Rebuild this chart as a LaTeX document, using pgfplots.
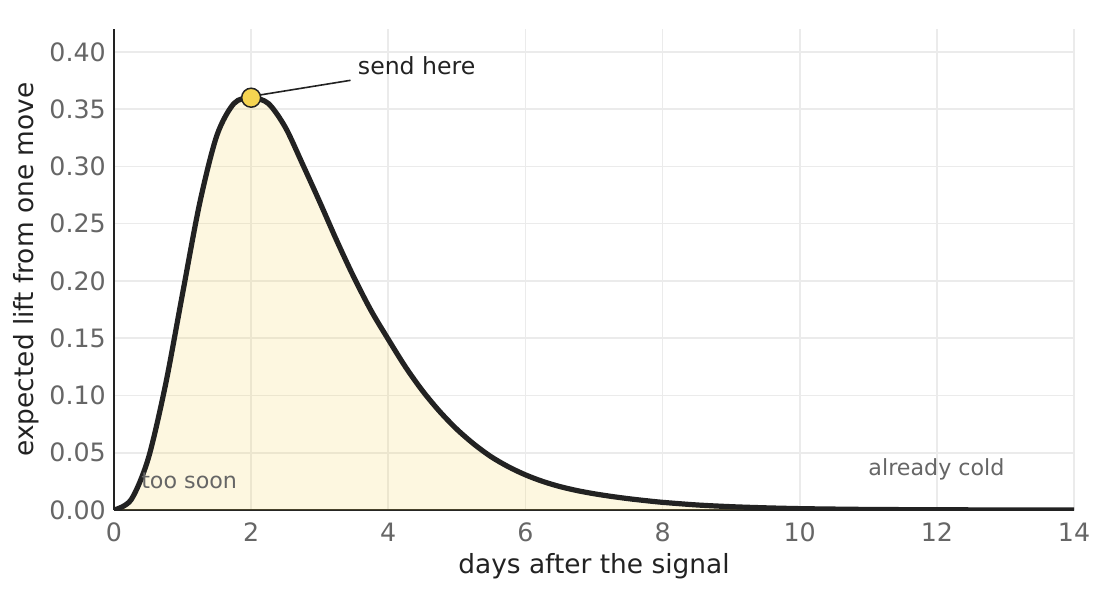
\documentclass[border=0pt]{standalone}
\usepackage{fontspec}
\setmainfont{DejaVu Sans}
\usepackage{pgfplots}
\usepackage{pgfplotstable}
\pgfplotsset{compat=1.18}

\definecolor{ink}{HTML}{222222}
\definecolor{tickgray}{HTML}{666666}
\definecolor{gridgray}{HTML}{EBEBEB}
\definecolor{peakyellow}{HTML}{F5D451}

% expected lift
\pgfplotstableread{
x      y
0.00   0.0000
0.25   0.0090
0.50   0.0450
0.75   0.1090
1.00   0.1890
1.25   0.2680
1.50   0.3270
1.75   0.3550
2.00   0.3600
2.25   0.3550
2.50   0.3340
2.75   0.3020
3.00   0.2690
3.25   0.2350
3.50   0.2030
3.75   0.1740
4.00   0.1490
4.25   0.1250
4.50   0.1040
4.75   0.0860
5.00   0.0705
5.25   0.0575
5.50   0.0465
5.75   0.0378
6.00   0.0307
6.25   0.0250
6.50   0.0205
6.75   0.0170
7.00   0.0142
7.25   0.0119
7.50   0.0099
7.75   0.0082
8.00   0.0067
8.50   0.0044
9.00   0.0029
9.50   0.0019
10.00  0.0012
10.50  0.0008
11.00  0.0005
12.00  0.0002
13.00  0.00008
14.00  0.00003
}\lift

\begin{document}
\begin{tikzpicture}
\begin{axis}[
    scale only axis,
    width=960bp, height=481bp,
    xmin=0, xmax=14,
    ymin=0, ymax=0.42,
    xtick={0,2,4,6,8,10,12,14},
    ytick={0,0.05,0.10,0.15,0.20,0.25,0.30,0.35,0.40},
    axis lines=left,
    axis line style={-, ink, line width=2.2bp},
    major tick length=0pt,
    grid=major,
    grid style={gridgray, line width=1.6bp},
    ticklabel style={font=\fontsize{25.3bp}{30bp}\selectfont, text=tickgray, inner sep=0pt},
    x tick label style={yshift=-13bp},
    y tick label style={xshift=-8bp},
    yticklabel style={/pgf/number format/.cd, fixed, fixed zerofill, precision=2},
    /pgf/number format/assume math mode=true,
    xlabel={days after the signal},
    ylabel={expected lift from one move},
    label style={font=\fontsize{26.4bp}{32bp}\selectfont, text=ink},
    xlabel style={at={(axis description cs:0.5,-0.1316)}, anchor=base},
    ylabel style={at={(axis description cs:-0.0841,0.5)}, anchor=base},
]
\coordinate (bl) at (rel axis cs:0,0);
\coordinate (tr) at (rel axis cs:1,1);

\addplot[draw=none, fill=peakyellow, fill opacity=0.18, smooth] table[x=x, y=y] {\lift} \closedcycle;
\addplot[ink, line width=5.2bp, smooth] table[x=x, y=y] {\lift};

\draw[ink, line width=1.6bp] (axis cs:2.099,0.3621) -- (axis cs:3.45,0.3752);
\addplot[only marks, mark=*, mark size=9.5bp,
    mark options={fill=peakyellow, draw=ink, line width=1.5bp}] coordinates {(2,0.36)};

\node[anchor=base west, inner sep=0pt, text=ink, font=\fontsize{23.6bp}{28bp}\selectfont]
    at (axis cs:3.555,0.380) {send here};
\node[anchor=base west, inner sep=0pt, text=tickgray, font=\fontsize{22.2bp}{27bp}\selectfont]
    at (axis cs:0.395,0.019) {too soon};
\node[anchor=base west, inner sep=0pt, text=tickgray, font=\fontsize{22.2bp}{27bp}\selectfont]
    at (axis cs:11.0,0.0298) {already cold};
\end{axis}
\pgfresetboundingbox
\path ([shift={(-114bp,-98bp)}]bl) rectangle ([shift={(46bp,29bp)}]tr);
\end{tikzpicture}
\end{document}
